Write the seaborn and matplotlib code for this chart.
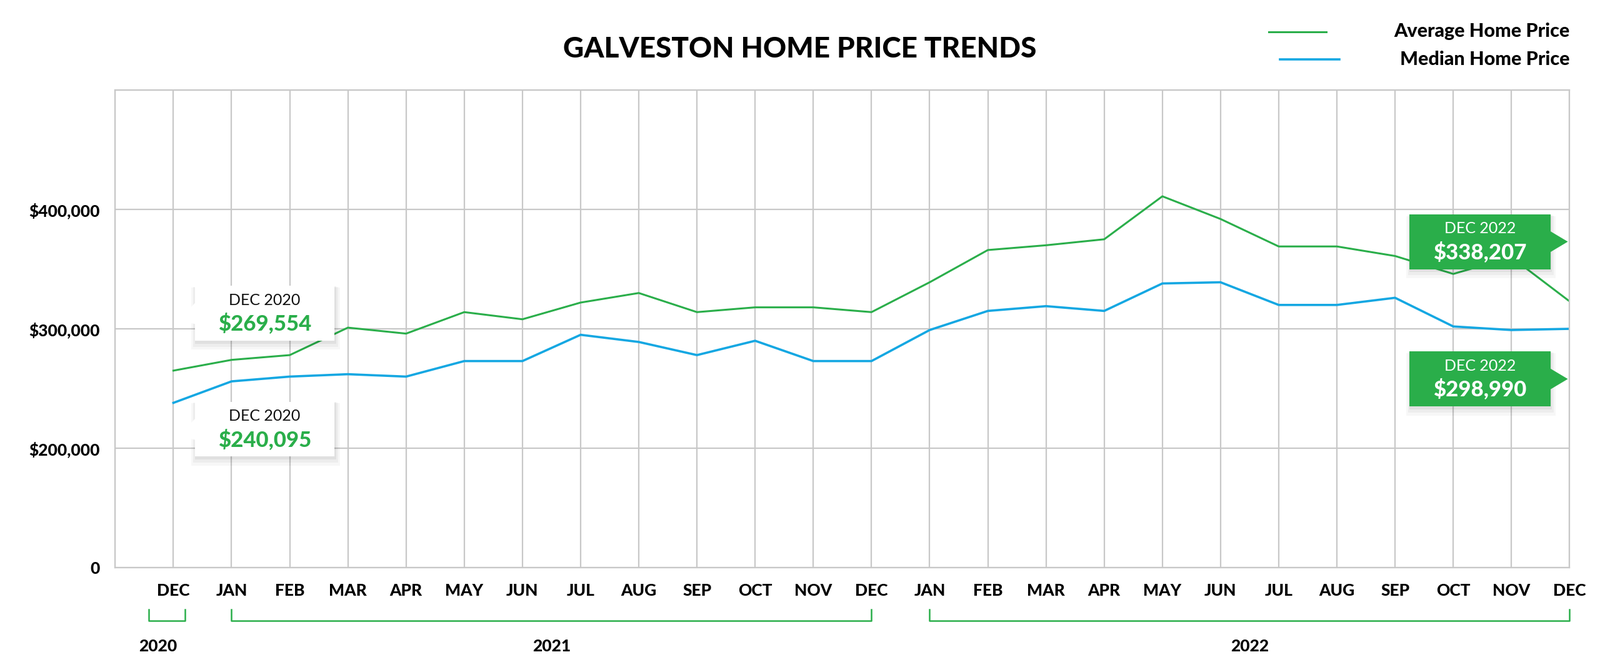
import matplotlib.pyplot as plt
import matplotlib.transforms as mtransforms
from matplotlib.patches import Rectangle, Polygon
from matplotlib.lines import Line2D
import seaborn as sns
import pandas as pd

months = ['DEC', 'JAN', 'FEB', 'MAR', 'APR', 'MAY', 'JUN', 'JUL', 'AUG', 'SEP', 'OCT', 'NOV', 'DEC',
          'JAN', 'FEB', 'MAR', 'APR', 'MAY', 'JUN', 'JUL', 'AUG', 'SEP', 'OCT', 'NOV', 'DEC']
avg_price = [265000, 274000, 278000, 301000, 296000, 314000, 308000, 322000, 330000, 314000, 318000, 318000, 314000,
             339000, 366000, 370000, 375000, 411000, 392000, 369000, 369000, 361000, 346000, 360000, 323000]
median_price = [238000, 256000, 260000, 262000, 260000, 273000, 273000, 295000, 289000, 278000, 290000, 273000, 273000,
                299000, 315000, 319000, 315000, 338000, 339000, 320000, 320000, 326000, 302000, 299000, 300000]
years = [('2020', 0, 0), ('2021', 1, 12), ('2022', 13, 24)]

GREEN = '#2aae4a'
BLUE = '#14a7e2'
plt.rcParams['font.family'] = 'Lato'

df = pd.DataFrame({'pos': range(len(months)), 'avg': avg_price, 'median': median_price})

fig = plt.figure(figsize=(25.6, 10.67), dpi=100)
ax = fig.add_axes([0.072, 0.149, 0.909, 0.716])
sns.lineplot(data=df, x='pos', y='avg', color=GREEN, lw=2.2, ax=ax)
sns.lineplot(data=df, x='pos', y='median', color=BLUE, lw=2.6, ax=ax)

ax.set_xlim(-1, 24)
ax.set_ylim(100000, 500000)
ax.set_xticks(range(-1, 25))
ax.set_xticklabels([''] + months)
ax.set_yticks([100000, 200000, 300000, 400000, 500000])
ax.set_yticklabels(['0', '$200,000', '$300,000', '$400,000', ''])
ax.grid(True, color='#c8c8c8', lw=1.6)
ax.set_axisbelow(True)
for s in ax.spines.values():
    s.set_color('#c8c8c8')
    s.set_linewidth(1.6)
ax.tick_params(length=0, labelsize=19, pad=18)
for lbl in ax.get_xticklabels() + ax.get_yticklabels():
    lbl.set_fontweight('heavy')
ax.set_xlabel('')
ax.set_ylabel('')

# year brackets
tr = mtransforms.blended_transform_factory(ax.transData, ax.transAxes)
for name, a, b in years:
    x0, x1 = (a - 0.42, b + 0.2) if a == b else (a, b)
    ax.plot([x0, x0, x1, x1], [-0.088, -0.111, -0.111, -0.088], color=GREEN, lw=1.8,
            transform=tr, clip_on=False)
    ax.text((x0 + x1) / 2 - (0.15 if a == b else 0), -0.165, name, transform=tr, ha='center', va='center',
            fontsize=19, fontweight='heavy')

# callouts
def callout(x0, x1, yc, label, value, dark):
    h = 46000
    face = GREEN if dark else 'white'
    for i, a in enumerate([0.05, 0.04, 0.03]):
        d = 0.03 * (i + 1)
        ax.add_patch(Rectangle((x0 - d + 0.03, yc - h / 2 - 2500 * (i + 1)), x1 - x0 + 2 * d - 0.03,
                               h + 2000 * (i + 1), color='black', alpha=a, zorder=4, lw=0))
    ax.add_patch(Rectangle((x0, yc - h / 2), x1 - x0, h, color=face, zorder=5, lw=0))
    if dark:
        tri = [(x1 - 0.01, yc + 9000), (x1 + 0.3, yc), (x1 - 0.01, yc - 9000)]
    else:
        tri = [(x0 + 0.01, yc + 9000), (x0 - 0.3, yc - 6000), (x0 + 0.01, yc - 9000)]
    ax.add_patch(Polygon(tri, color=face, zorder=5, lw=0))
    tc = 'white' if dark else '#111111'
    vc = 'white' if dark else GREEN
    ax.text((x0 + x1) / 2, yc + 11000, label, ha='center', va='center', fontsize=18, color=tc, zorder=6)
    ax.text((x0 + x1) / 2, yc - 9000, value, ha='center', va='center', fontsize=25,
            fontweight='heavy', color=vc, zorder=6)

callout(0.37, 2.77, 313000, 'DEC 2020', '$269,554', False)
callout(0.37, 2.77, 216000, 'DEC 2020', '$240,095', False)
callout(21.25, 23.67, 373000, 'DEC 2022', '$338,207', True)
callout(21.25, 23.67, 258000, 'DEC 2022', '$298,990', True)

fig.text(0.5, 0.926, 'GALVESTON HOME PRICE TRENDS', ha='center', va='center', fontsize=33, fontweight='heavy')

# legend
fig.add_artist(Line2D([0.793, 0.829], [0.952, 0.952], color=GREEN, lw=2.2))
fig.add_artist(Line2D([0.800, 0.837], [0.911, 0.911], color=BLUE, lw=2.6))
fig.text(0.981, 0.953, 'Average Home Price', ha='right', va='center', fontsize=22, fontweight='heavy')
fig.text(0.981, 0.911, 'Median Home Price', ha='right', va='center', fontsize=22, fontweight='heavy')

fig.savefig('out.png', dpi=100)
